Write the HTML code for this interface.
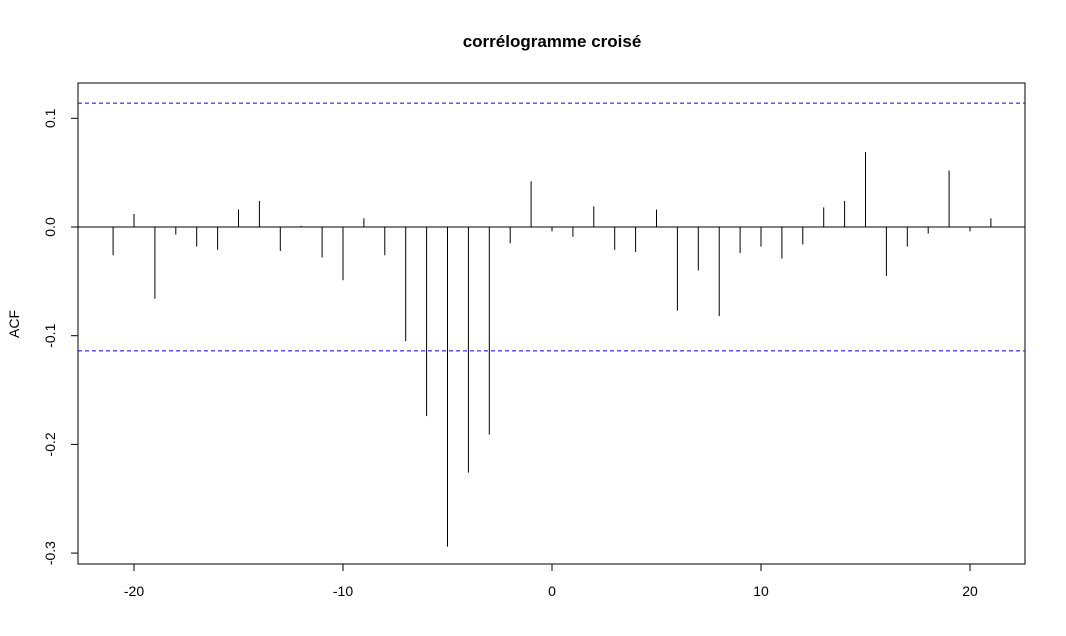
<!DOCTYPE html>
<html><head><meta charset="utf-8"><style>
html,body{margin:0;padding:0;background:#fff;}
svg{display:block;font-family:"Liberation Sans",sans-serif;}
</style></head><body>
<svg id="chart" width="1066" height="636">
<text x="552" y="47" text-anchor="middle" font-size="17" font-weight="bold">corrélogramme croisé</text>
<rect x="78" y="83" width="947" height="481" fill="none" stroke="#000"/>
<text transform="translate(19,324) rotate(-90)" text-anchor="middle" font-size="14">ACF</text>
<g id="marks"></g>
</svg>
<script>
const lags = [-21,-20,-19,-18,-17,-16,-15,-14,-13,-12,-11,-10,-9,-8,-7,-6,-5,-4,-3,-2,-1,0,1,2,3,4,5,6,7,8,9,10,11,12,13,14,15,16,17,18,19,20,21];
const acf = [-0.026,0.012,-0.066,-0.007,-0.018,-0.021,0.016,0.024,-0.022,0.001,-0.028,-0.049,0.008,-0.026,-0.105,-0.174,-0.294,-0.226,-0.191,-0.015,0.042,-0.004,-0.009,0.019,-0.021,-0.023,0.016,-0.077,-0.040,-0.082,-0.024,-0.018,-0.029,-0.016,0.018,0.024,0.069,-0.045,-0.018,-0.006,0.052,-0.004,0.008];
const xTicks = [-20,-10,0,10,20];
const yTicks = [-0.3,-0.2,-0.1,0.0,0.1];
const ciBound = 0.114;

const NS="http://www.w3.org/2000/svg";
const svg=document.getElementById('chart');
const X=v=>552+v*20.9;
const Y=v=>227-v*1087;
function el(tag,attrs,parent){const e=document.createElementNS(NS,tag);for(const k in attrs)e.setAttribute(k,attrs[k]);(parent||svg).appendChild(e);return e;}

// zero line
let z=el('line',{x1:78,x2:1025,y1:Y(0),y2:Y(0),stroke:'#000'});



// CI lines
[ciBound,-ciBound].forEach((c,i)=>{
  const l=el('line',{x1:78,x2:1025,y1:Y(c),y2:Y(c),stroke:'#0000ff','stroke-dasharray':'4,3'});
  
  
});

// bars
lags.forEach((g,i)=>{
  const l=el('line',{x1:X(g),x2:X(g),y1:Y(0),y2:Y(acf[i]),stroke:'#000'});
  
  
});

// x axis
const xa=el('line',{x1:X(-20),x2:X(20),y1:564,y2:564,stroke:'#000'});
xTicks.forEach(t=>{
  const tk=el('line',{x1:X(t),x2:X(t),y1:564,y2:571,stroke:'#000'});
  
  
  const tx=el('text',{x:X(t),y:596,'text-anchor':'middle','font-size':14});
  tx.textContent=String(t);
  
  
});
// y axis
yTicks.forEach(t=>{
  const tk=el('line',{x1:71,x2:78,y1:Y(t),y2:Y(t),stroke:'#000'});
  
  
  const tx=el('text',{transform:`translate(55,${Y(t)}) rotate(-90)`,'text-anchor':'middle','font-size':14});
  tx.textContent=t.toFixed(1);
  
  
});
</script>
</body></html>
